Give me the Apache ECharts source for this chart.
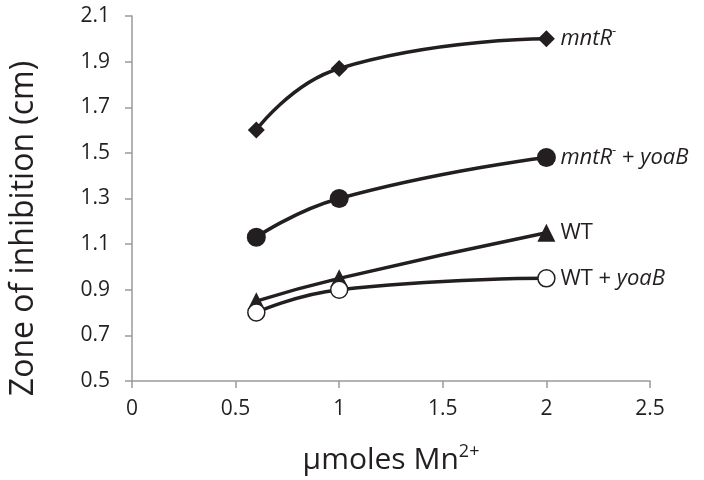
<!DOCTYPE html>
<html><head><meta charset="utf-8">
<script src="https://cdn.jsdelivr.net/npm/echarts@6/dist/echarts.min.js"></script>
<style>html,body{margin:0;padding:0;background:#fff}#c{width:704px;height:480px}</style>
</head><body><div id="c"></div>
<script>
var xValues = [0.6, 1, 2];
var mntR = [1.60, 1.87, 2.00];
var mntRyoaB = [1.13, 1.30, 1.48];
var wt = [0.85, 0.95, 1.15];
var wtyoaB = [0.80, 0.90, 0.95];
var xTicks = [0, 0.5, 1, 1.5, 2, 2.5];
var yTicks = [0.5, 0.7, 0.9, 1.1, 1.3, 1.5, 1.7, 1.9, 2.1];

var FONT = '"Open Sans", sans-serif';
var INK = '#231f20';
function pairs(ys){ return xValues.map(function(x,i){ return [x, ys[i]]; }); }
var labelRich = {
  it: {fontFamily: FONT, fontStyle: 'italic', fontSize: 22, color: INK, lineHeight: 28},
  n: {fontFamily: FONT, fontSize: 22, color: INK, lineHeight: 28},
  sup: {fontFamily: FONT, fontSize: 13, color: INK, verticalAlign: 'top', lineHeight: 28}
};
function mkSeries(name, ys, symbol, size, fill, label){
  return {
    name: name, type: 'line', data: pairs(ys), smooth: 0.5,
    symbol: symbol, symbolSize: size,
    lineStyle: {color: INK, width: 3.5},
    itemStyle: {color: fill, borderColor: INK, borderWidth: fill === '#fff' ? 1.5 : 0},
    endLabel: {show: true, distance: 14, formatter: label, rich: labelRich},
    z: 3
  };
}
var chart = echarts.init(document.getElementById('c'), null, {renderer: 'canvas'});
chart.setOption({
  animation: false,
  grid: {left: 131, right: 54, top: 16, bottom: 99},
  xAxis: {
    type: 'value', min: xTicks[0], max: xTicks[xTicks.length-1], interval: 0.5,
    axisLine: {lineStyle: {color: '#9a9a9a', width: 1.5}},
    axisTick: {show: true, length: 7, lineStyle: {color: '#9a9a9a', width: 1.5}},
    splitLine: {show: false},
    axisLabel: {margin: 18, fontFamily: FONT, fontSize: 21, color: INK},
    name: '{a|μmoles Mn}{s|2+}', nameLocation: 'middle', nameGap: 62,
    nameTextStyle: {rich: {
      a: {fontFamily: FONT, fontSize: 30, color: INK, lineHeight: 34},
      s: {fontFamily: FONT, fontSize: 18, color: INK, verticalAlign: 'top', lineHeight: 34}
    }}
  },
  yAxis: {
    type: 'value', min: yTicks[0], max: yTicks[yTicks.length-1], interval: 0.2,
    axisLine: {show: true, lineStyle: {color: '#9a9a9a', width: 1.5}},
    axisTick: {show: true, length: 7, lineStyle: {color: '#9a9a9a', width: 1.5}},
    splitLine: {show: false},
    axisLabel: {margin: 22, fontFamily: FONT, fontSize: 21, color: INK,
      formatter: function(v){ return v.toFixed(1); }},
    name: 'Zone of inhibition (cm)', nameLocation: 'middle', nameGap: 92,
    nameTextStyle: {fontFamily: FONT, fontSize: 32, color: INK, padding: [0, 60, 0, 0]}
  },
  series: [
    mkSeries('mntR-', mntR, 'diamond', 17, INK, '{it|mntR}{sup|-}'),
    mkSeries('mntR- + yoaB', mntRyoaB, 'circle', 19, INK, '{it|mntR}{sup|-}{n| + }{it|yoaB}'),
    mkSeries('WT', wt, 'triangle', 18, INK, '{n|WT}'),
    mkSeries('WT + yoaB', wtyoaB, 'circle', 17, '#fff', '{n|WT + }{it|yoaB}')
  ]
});
</script></body></html>
